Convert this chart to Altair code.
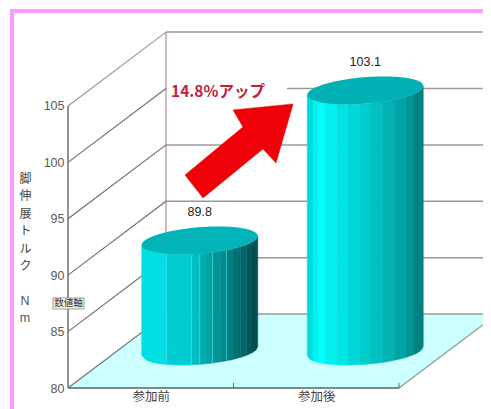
import numpy as np
import pandas as pd
import altair as alt

# --- values ---
CATEGORIES = ["参加前", "参加後"]
VALUES = [89.8, 103.1]
Y_TICKS = [80, 85, 90, 95, 100, 105]
Y_TITLE = ["脚", "伸", "展", "ト", "ル", "ク"]
Y_UNIT = ["N", "m"]
ANNOT = "14.8%アップ"
CHIP = "数値軸"
ARROW_X = [0.707, 0.816, 1.178, 1.257, 1.360, 0.997, 1.057, 0.707]
ARROW_V = [98.88, 96.84, 101.19, 99.95, 105.18, 104.65, 103.14, 98.88]
STRIPS_1_EDGES = [0, .215, .43, .5, .56, .61, .68, .73, .785, .85, .905, .95, 1]
STRIPS_1_COLORS = ["#00dfe3", "#00cdd0", "#00bdc0", "#00adb0", "#00a2a4", "#009698",
                   "#008a8c", "#007e80", "#007274", "#006668", "#005a5c", "#004e50"]
STRIPS_1_LIGHT = [.215, .43, .5, .61, .73]
STRIPS_2_EDGES = [0, .05, .1, .15, .25, .35, .45, .55, .65, .75, .85, .92, 1]
STRIPS_2_COLORS = ["#00dcdc", "#00f4f4", "#00ffff", "#00f0f0", "#00e4e4", "#00d8d8",
                   "#00cccc", "#00c0c0", "#00b2b2", "#00a4a4", "#009494", "#008282"]
TOP_COLOR = ["#00b4ba", "#00b0b4"]

# --- chart model: x in category units, y in torque units, depth 0 (front) .. 1 (back) ---
PX_W, PX_H = 415, 375
X_MAX = 415 / 165.5
Y_MAX = 113.24
DEPTH_X, DEPTH_V = 0.592, 6.55
HALF_X, HALF_D = 0.332, 0.19
BAR_DEPTH = 0.5

xs = alt.Scale(domain=[0, X_MAX], nice=False, zero=False)
ys = alt.Scale(domain=[80, Y_MAX], nice=False, zero=False)

X_AXIS = alt.Axis(
    values=[0.5, 1.5], title=None, ticks=False, domain=False, grid=False,
    labelExpr="datum.value < 1 ? '%s' : '%s'" % tuple(CATEGORIES),
    labelFont="Noto Sans CJK JP", labelFontSize=12.5, labelColor="#444",
    labelPadding=2, labelAngle=0)
Y_AXIS = alt.Axis(
    values=Y_TICKS, ticks=False, domain=False, grid=False, format="d",
    labelFont="Liberation Sans", labelFontSize=12.5, labelColor="#5a5a5a",
    labelPadding=4, title=Y_TITLE, titleAngle=0, titleX=-43, titleY=165,
    titleFont="Noto Sans CJK JP", titleFontSize=12, titleFontWeight="normal",
    titleColor="#444", titleLineHeight=17.5, titleAlign="center",
    titleBaseline="middle")


def X(f="x"):
    return alt.X(f"{f}:Q", scale=xs, axis=X_AXIS)


def Y(f="y"):
    return alt.Y(f"{f}:Q", scale=ys, axis=Y_AXIS)


# floor
floor = pd.DataFrame({
    "x": [0, DEPTH_X, 2, X_MAX],
    "y": [80, 80, 80, 80 + (X_MAX - 2) / DEPTH_X * DEPTH_V],
    "y2": [80, 80 + DEPTH_V, 80 + DEPTH_V, 80 + DEPTH_V],
})
floor_l = alt.Chart(floor).mark_area(color="#ccffff").encode(X(), Y(), y2="y2:Q")

# grid
diag = pd.DataFrame({"x": 0.0, "x2": DEPTH_X, "y": Y_TICKS,
                     "y2": [v + DEPTH_V for v in Y_TICKS],
                     "c": ["#6a6a6a"] * 5 + ["#a58c9c"]})
diag_l = alt.Chart(diag).mark_rule(strokeWidth=1.1).encode(
    X(), x2="x2:Q", y=Y(), y2="y2:Q", color=alt.Color("c:N", scale=None))

back = pd.DataFrame({"x": [DEPTH_X, DEPTH_X, DEPTH_X, DEPTH_X, 1.323, DEPTH_X], "x2": X_MAX,
                     "y": [v + DEPTH_V for v in Y_TICKS],
                     "c": ["#9a9a9a"] * 5 + ["#a8949f"]})
back_l = alt.Chart(back).mark_rule(strokeWidth=1.5).encode(
    X(), x2="x2:Q", y=Y(), color=alt.Color("c:N", scale=None))

wall = pd.DataFrame({"x": [DEPTH_X], "y": [80 + DEPTH_V], "y2": [105 + DEPTH_V]})
wall_l = alt.Chart(wall).mark_rule(strokeWidth=1.1, color="#a87f8c").encode(X(), y=Y(), y2="y2:Q")

edge = pd.DataFrame({"x": [2.0], "x2": [X_MAX], "y": [80.0], "y2": [floor["y"].iloc[-1]]})
edge_l = alt.Chart(edge).mark_rule(strokeWidth=1.2, color="#8a9a9a").encode(
    X(), x2="x2:Q", y=Y(), y2="y2:Q")

base_line = pd.DataFrame({"x": [0.0], "x2": [2.0], "y": [80.0]})
base_l = alt.Chart(base_line).mark_rule(strokeWidth=1.8, color="#7f8888").encode(
    X(), x2="x2:Q", y=Y())

ticks = pd.DataFrame({"x": [1.0, 2.0], "y": [80.0, 80.0], "y2": [80.45, 80.45]})
ticks_l = alt.Chart(ticks).mark_rule(strokeWidth=1, color="#666").encode(X(), y=Y(), y2="y2:Q")

axis_df = pd.DataFrame({"x": [0.0], "y": [80.0], "y2": [105.0]})
axis_l = alt.Chart(axis_df).mark_rule(strokeWidth=1.6, color="#777").encode(X(), Y(), y2="y2:Q")

# unit under the axis title
unit = pd.DataFrame({"x": [-0.26, -0.26], "y": [87.7, 86.2], "t": Y_UNIT})
unit_l = alt.Chart(unit).mark_text(font="Liberation Sans", fontSize=12.5, color="#555").encode(
    X(), Y(), text="t:N")

# cylinders
R = float(np.hypot(HALF_X, HALF_D * DEPTH_X))
PHI = float(np.arctan2(HALF_D * DEPTH_X, HALF_X))
N = HALF_D * DEPTH_V


def arc(offset, lower=True):
    a = np.arccos(np.clip(offset / R, -1, 1))
    return N * np.sin(PHI - a if lower else PHI + a)


layers_cyl = []
for i, (cat, val, edges, cols) in enumerate(zip(
        CATEGORIES, VALUES, [STRIPS_1_EDGES, STRIPS_2_EDGES], [STRIPS_1_COLORS, STRIPS_2_COLORS])):
    cx = i + 0.5 + BAR_DEPTH * DEPTH_X
    base = 80 + BAR_DEPTH * DEPTH_V
    top = val + BAR_DEPTH * DEPTH_V
    rows = []
    for k, col in enumerate(cols):
        for f in np.linspace(edges[k], edges[k + 1], 6):
            off = (2 * f - 1) * R
            low = arc(off, True)
            rows.append({"id": f"s{k}", "c": col, "x": cx + off, "y": base + low, "y2": top + low})
    layers_cyl.append(alt.Chart(pd.DataFrame(rows)).mark_area(strokeWidth=0.5).encode(
        X(), Y(), y2="y2:Q", detail="id:N",
        color=alt.Color("c:N", scale=None), stroke=alt.Stroke("c:N", scale=None)))
    if i == 0:
        lr = []
        for f in STRIPS_1_LIGHT:
            off = (2 * f - 1) * R
            low = arc(off, True)
            lr.append({"x": cx + off, "y": base + low, "y2": top + low})
        layers_cyl.append(alt.Chart(pd.DataFrame(lr)).mark_rule(
            strokeWidth=0.7, color="#66eeee", opacity=0.75).encode(X(), y=Y(), y2="y2:Q"))
    fs = (1 - np.cos(np.linspace(0, np.pi, 60))) / 2
    offs = (2 * fs - 1) * R
    cap = pd.DataFrame({"x": cx + offs, "y": top + arc(offs, True), "y2": top + arc(offs, False)})
    layers_cyl.append(alt.Chart(cap).mark_area(color=TOP_COLOR[i]).encode(X(), Y(), y2="y2:Q"))

# value labels
labels = pd.DataFrame({"x": [i + 0.5 + BAR_DEPTH * DEPTH_X for i in range(2)],
                       "y": [v + BAR_DEPTH * DEPTH_V + 2.5 for v in VALUES],
                       "t": [f"{v:.1f}" for v in VALUES]})
labels_l = alt.Chart(labels).mark_text(font="Liberation Sans", fontSize=12.5, color="#222").encode(
    X(), Y(), text="t:N")

# arrow and annotation
arrow = pd.DataFrame({"x": ARROW_X, "y": ARROW_V, "o": range(len(ARROW_X))})
arrow_l = alt.Chart(arrow).mark_line(fill="#f00008", stroke="#f00008", strokeWidth=0.5).encode(
    X(), Y(), order="o:Q")

annot = pd.DataFrame({"x": [0.906], "y": [106.25], "t": [ANNOT]})
annot_l = alt.Chart(annot).mark_text(font="Noto Sans CJK JP", fontSize=15.5, fontWeight="bold",
                                     color="#c4203c").encode(X(), Y(), text="t:N")

# chip
chip = pd.DataFrame({"x": [-0.091], "x2": [0.097], "y": [87.0], "y2": [87.98]})
chip_l = alt.Chart(chip).mark_rect(fill="#f4f1e2", stroke="#777", strokeWidth=0.7).encode(
    X(), x2="x2:Q", y=Y(), y2="y2:Q")
chip_t = alt.Chart(pd.DataFrame({"x": [0.003], "y": [87.5], "t": [CHIP]})).mark_text(
    font="Noto Sans CJK JP", fontSize=9.5, color="#333").encode(X(), Y(), text="t:N")

# pink frame
FRAME = "#ff99ff"
frame_a = alt.Chart(pd.DataFrame({"a": [0]})).mark_rule(color=FRAME, strokeWidth=4).encode(
    x=alt.value(-56), y=alt.value(-4), y2=alt.value(396))
frame_b = alt.Chart(pd.DataFrame({"a": [0]})).mark_rule(color=FRAME, strokeWidth=4).encode(
    x=alt.value(-58), x2=alt.value(PX_W), y=alt.value(-2))

chart = alt.layer(
    floor_l, back_l, wall_l, diag_l, edge_l, base_l, axis_l, ticks_l, unit_l,
    *layers_cyl, labels_l, arrow_l, annot_l, chip_l, chip_t, frame_a, frame_b,
).properties(
    width=PX_W, height=PX_H, autosize="none",
    padding={"left": 60, "top": 5, "right": 0, "bottom": 21},
    background="white",
).configure_view(stroke=None)

chart.save("out.html", embed_options={"renderer": "svg", "actions": False})
